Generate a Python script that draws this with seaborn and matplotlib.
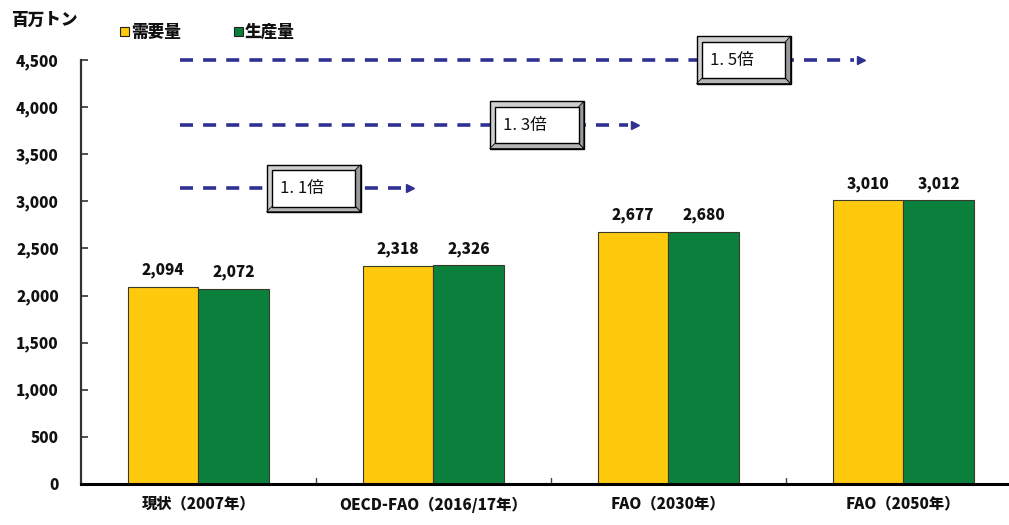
import matplotlib
matplotlib.use("Agg")
import matplotlib.pyplot as plt
import seaborn as sns
import pandas as pd
from matplotlib.patches import Rectangle, Polygon

# ---- data -------------------------------------------------------------
categories = ["現状（2007年）", "OECD-FAO（2016/17年）", "FAO（2030年）", "FAO（2050年）"]
demand = [2094, 2318, 2677, 3010]      # 需要量
production = [2072, 2326, 2680, 3012]  # 生産量
series_names = ["需要量", "生産量"]
y_ticks = [0, 500, 1000, 1500, 2000, 2500, 3000, 3500, 4000, 4500]
y_tick_labels = ["0", "500", "1,000", "1,500", "2,000", "2,500", "3,000", "3,500", "4,000", "4,500"]
unit_label = "百万トン"

# growth-ratio callouts: label, y level, where the arrow stops (category units)
ratio_labels = ["1.1倍", "1.3倍", "1.5倍"]
ratio_levels = [3140, 3810, 4500]
ratio_arrow_end = [0.90, 1.86, 2.82]
ratio_box_x = [0.29, 1.24, 2.12]

YELLOW = "#FFC90E"
GREEN = "#0B803C"
NAVY = "#2E3192"
HEAVY = "heavy"

sns.set_theme(style="white")
plt.rcParams["font.family"] = ["Noto Sans CJK JP", "DejaVu Sans"]

df = pd.DataFrame({
    "category": categories * 2,
    "series": [series_names[0]] * len(categories) + [series_names[1]] * len(categories),
    "value": demand + production,
})

fig = plt.figure(figsize=(10.09, 5.25), dpi=100)
ax = fig.add_axes([0.0803, 0.078, 0.9197, 0.8077])

sns.barplot(data=df, x="category", y="value", hue="series",
            palette=[YELLOW, GREEN], width=0.6, gap=0,
            edgecolor="#3a3a2a", linewidth=0.8, saturation=1,
            legend=False, ax=ax)

# value labels above bars
for container in ax.containers:
    ax.bar_label(container, labels=[f"{v:,.0f}" for v in container.datavalues],
                 padding=6, fontsize=11, fontweight=HEAVY, color="#111111")

ax.set_xlim(-0.5, 3.45)
ax.set_ylim(0, 4500)
ax.set_yticks(y_ticks)
ax.set_yticklabels(y_tick_labels, fontsize=11, fontweight=HEAVY, color="#111111")
ax.set_xticks(range(len(categories)))
ax.set_xticklabels(categories, fontsize=11, fontweight=HEAVY, color="#111111")
ax.tick_params(axis="x", length=0, pad=9)
ax.tick_params(axis="y", direction="in", length=5, width=1.2, color="#333333",
               left=True, pad=16)
for lbl in ax.get_yticklabels():
    lbl.set_horizontalalignment("right")

# small boundary ticks between categories on the baseline
for b in [0.5, 1.5, 2.5]:
    ax.plot([b, b], [0, 60], color="#444444", lw=1, clip_on=False)

ax.set_xlabel("")
ax.set_ylabel("")
for side in ["top", "right"]:
    ax.spines[side].set_visible(False)
ax.spines["left"].set_color("#333333")
ax.spines["left"].set_linewidth(1.6)
ax.spines["bottom"].set_color("black")
ax.spines["bottom"].set_linewidth(2.2)

# dashed growth arrows with bevelled labels
x_start = -0.08
box_w = 0.40
box_h = 500
bevel_x = 0.022
bevel_y = 55
for lab, lev, xend, bx in zip(ratio_labels, ratio_levels, ratio_arrow_end, ratio_box_x):
    ax.plot([x_start, xend - 0.03], [lev, lev], color=NAVY, lw=2.6,
            dashes=(3.6, 2.8), clip_on=False, zorder=3)
    ax.plot([xend], [lev], marker=">", color=NAVY, markersize=6,
            clip_on=False, zorder=3)
    y0 = lev - box_h / 2
    outer = Rectangle((bx, y0), box_w, box_h, facecolor="#d0d0d0",
                      edgecolor="black", lw=1, clip_on=False, zorder=4)
    ax.add_patch(outer)
    # darker right and bottom bevel faces
    right = Polygon([(bx + box_w, y0), (bx + box_w, y0 + box_h),
                     (bx + box_w - bevel_x, y0 + box_h - bevel_y),
                     (bx + box_w - bevel_x, y0 + bevel_y)],
                    closed=True, facecolor="#9a9a9a", edgecolor="black",
                    lw=0.6, clip_on=False, zorder=4)
    bottom = Polygon([(bx, y0), (bx + box_w, y0),
                      (bx + box_w - bevel_x, y0 + bevel_y),
                      (bx + bevel_x, y0 + bevel_y)],
                     closed=True, facecolor="#b5b5b5", edgecolor="black",
                     lw=0.6, clip_on=False, zorder=4)
    ax.add_patch(right)
    ax.add_patch(bottom)
    inner = Rectangle((bx + bevel_x, y0 + bevel_y), box_w - 2 * bevel_x,
                      box_h - 2 * bevel_y, facecolor="white",
                      edgecolor="black", lw=1, clip_on=False, zorder=5)
    ax.add_patch(inner)
    ax.text(bx + bevel_x + 0.035, lev, lab.replace(".", ". "), ha="left",
            va="center", fontsize=12, color="#111111", zorder=6, clip_on=False)

# unit label and legend
fig.text(0.011, 0.963, unit_label, fontsize=12, fontweight=HEAVY,
         color="#111111", ha="left", va="center")
legend_items = [(0.119, YELLOW, series_names[0]), (0.232, GREEN, series_names[1])]
for x, col, name in legend_items:
    fig.patches.append(Rectangle((x, 0.932), 0.0085, 0.016, facecolor=col,
                                 edgecolor="#222222", lw=0.8,
                                 transform=fig.transFigure, figure=fig))
    fig.text(x + 0.011, 0.939, name, fontsize=12, fontweight=HEAVY,
             color="#111111", ha="left", va="center")

fig.savefig("out.png", dpi=100)
